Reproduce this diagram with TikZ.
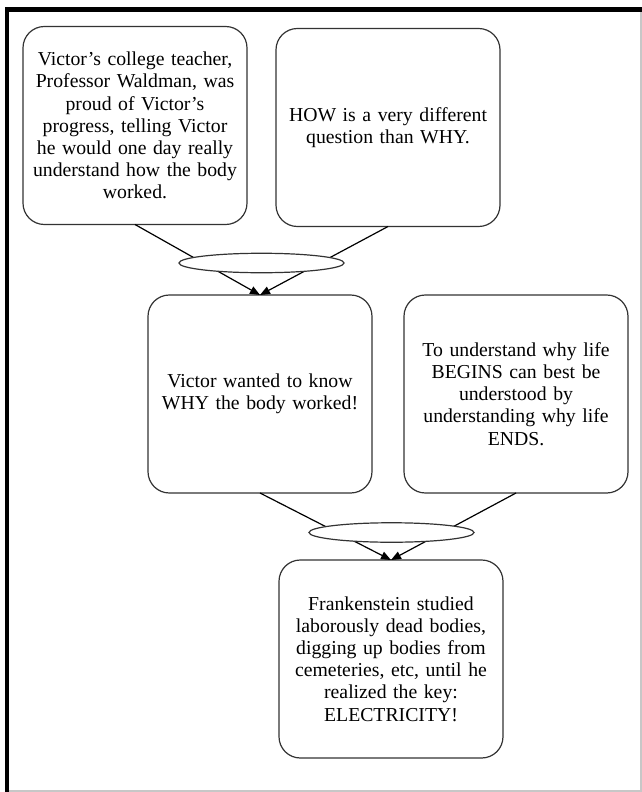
\documentclass[tikz,border=0pt]{standalone}
\usepackage{fontspec}
\setmainfont{Liberation Serif}
\usetikzlibrary{shapes.geometric,arrows.meta}

\tikzset{
  card/.style={draw=black!80, line width=0.9pt, rounded corners=16pt, fill=white,
    minimum width=168pt, minimum height=148.5pt, inner sep=2pt, outer sep=0pt,
    text width=164pt, align=center,
    font=\fontsize{14.8pt}{16.6pt}\selectfont},
  hub/.style={ellipse, draw=black!80, line width=0.9pt, fill=white,
    minimum width=123.75pt, minimum height=14.6pt, inner sep=0pt, outer sep=0pt},
  link/.style={draw=black, line width=0.9pt,
    -{Triangle[length=7.5pt,width=6pt]}},
  frame/.style={line width=3.4pt, line join=miter},
  edge line/.style={draw=black!22, line width=1.1pt}
}

\begin{document}
\begin{tikzpicture}[x=0.75pt, y=-0.75pt]
  \useasboundingbox (0,0) rectangle (642,792);

  % page frame
  \draw[frame] (7,792) -- (7,9.5) -- (642,9.5);
  \draw[edge line] (641,12) -- (641,791) -- (9,791);

  % text cards
  \node[card] (teacher) at (135,125.5) {Victor's college teacher,\\ Professor Waldman, was\\ proud of Victor's\\ progress, telling Victor\\ he would one day really\\ understand how the body\\ worked.};
  \node[card] (how) at (388,127.5) {HOW is a very different\\ question than WHY.};
  \node[card] (why) at (260,394) {Victor wanted to know\\ WHY the body worked!};
  \node[card] (life) at (516,394) {To understand why life\\ BEGINS can best be\\ understood by\\ understanding why life\\ ENDS.};
  \node[card] (frank) at (391,659) {Frankenstein studied\\ laborously dead bodies,\\ digging up bodies from\\ cemeteries, etc, until he\\ realized the key:\\ ELECTRICITY!};

  % connectors
  \draw[link] (teacher.south) -- (why.north);
  \draw[link] (how.south) -- (why.north);
  \draw[link] (why.south) -- (frank.north);
  \draw[link] (life.south) -- (frank.north);

  % junction ellipses over the connectors
  \node[hub] (j1) at (261.5,263) {};
  \node[hub] (j2) at (391.5,532.5) {};
\end{tikzpicture}
\end{document}
